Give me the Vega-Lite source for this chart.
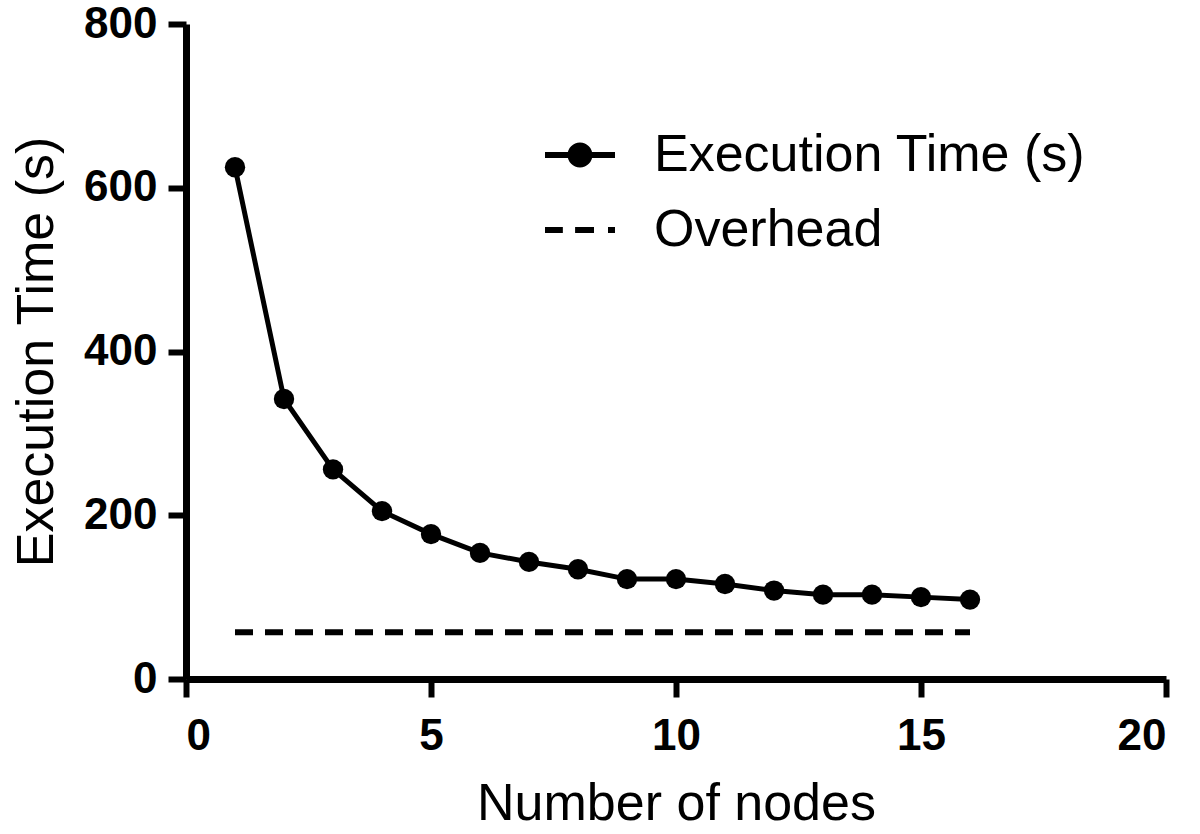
{
  "$schema": "https://vega.github.io/schema/vega-lite/v6.json",
  "width": 980,
  "height": 655,
  "autosize": {"type": "none"},
  "padding": {"left": 186, "top": 24, "right": 34, "bottom": 155},
  "background": "white",
  "config": {
    "view": {"stroke": null},
    "font": "Liberation Sans",
    "axis": {
      "grid": false,
      "domainColor": "black",
      "domainWidth": 7,
      "tickColor": "black",
      "tickWidth": 6,
      "tickSize": 18,
      "labelFont": "Liberation Sans",
      "labelFontSize": 44,
      "labelFontWeight": "bold",
      "labelColor": "black",
      "titleFont": "Liberation Sans",
      "titleFontSize": 52,
      "titleFontWeight": "normal",
      "titleColor": "black"
    }
  },
  "data": {
    "values": [
      {"nodes": 1, "series": "Execution Time (s)", "time": 625},
      {"nodes": 2, "series": "Execution Time (s)", "time": 342},
      {"nodes": 3, "series": "Execution Time (s)", "time": 256},
      {"nodes": 4, "series": "Execution Time (s)", "time": 205},
      {"nodes": 5, "series": "Execution Time (s)", "time": 177},
      {"nodes": 6, "series": "Execution Time (s)", "time": 154},
      {"nodes": 7, "series": "Execution Time (s)", "time": 143},
      {"nodes": 8, "series": "Execution Time (s)", "time": 134},
      {"nodes": 9, "series": "Execution Time (s)", "time": 122},
      {"nodes": 10, "series": "Execution Time (s)", "time": 122},
      {"nodes": 11, "series": "Execution Time (s)", "time": 116},
      {"nodes": 12, "series": "Execution Time (s)", "time": 108},
      {"nodes": 13, "series": "Execution Time (s)", "time": 103},
      {"nodes": 14, "series": "Execution Time (s)", "time": 103},
      {"nodes": 15, "series": "Execution Time (s)", "time": 100},
      {"nodes": 16, "series": "Execution Time (s)", "time": 97},
      {"nodes": 1, "series": "Overhead", "time": 57},
      {"nodes": 2, "series": "Overhead", "time": 57},
      {"nodes": 3, "series": "Overhead", "time": 57},
      {"nodes": 4, "series": "Overhead", "time": 57},
      {"nodes": 5, "series": "Overhead", "time": 57},
      {"nodes": 6, "series": "Overhead", "time": 57},
      {"nodes": 7, "series": "Overhead", "time": 57},
      {"nodes": 8, "series": "Overhead", "time": 57},
      {"nodes": 9, "series": "Overhead", "time": 57},
      {"nodes": 10, "series": "Overhead", "time": 57},
      {"nodes": 11, "series": "Overhead", "time": 57},
      {"nodes": 12, "series": "Overhead", "time": 57},
      {"nodes": 13, "series": "Overhead", "time": 57},
      {"nodes": 14, "series": "Overhead", "time": 57},
      {"nodes": 15, "series": "Overhead", "time": 57},
      {"nodes": 16, "series": "Overhead", "time": 57}
    ]
  },
  "encoding": {
    "x": {
      "field": "nodes",
      "type": "quantitative",
      "scale": {"domain": [0, 20], "nice": false, "zero": false},
      "axis": {
        "values": [0, 5, 10, 15, 20],
        "title": "Number of nodes",
        "labelPadding": 17,
        "titleBaseline": "alphabetic",
        "titleY": 140
      }
    },
    "y": {
      "field": "time",
      "type": "quantitative",
      "scale": {"domain": [0, 800], "nice": false},
      "axis": {
        "values": [0, 200, 400, 600, 800],
        "title": "Execution Time (s)",
        "labelPadding": 11,
        "titleBaseline": "alphabetic",
        "titleX": -134
      }
    }
  },
  "layer": [
    {
      "transform": [{"filter": "datum.series === 'Execution Time (s)'"}],
      "mark": {"type": "line", "color": "black", "strokeWidth": 5},
      "encoding": {}
    },
    {
      "transform": [{"filter": "datum.series === 'Overhead'"}],
      "mark": {"type": "line", "color": "black", "strokeWidth": 6, "strokeDash": [18, 12]},
      "encoding": {}
    },
    {
      "transform": [{"filter": "datum.series === 'Execution Time (s)'"}],
      "mark": {"type": "point", "filled": true, "color": "black", "size": 415, "opacity": 1}
    },
    {
      "transform": [{"filter": "datum.nodes < 0"}],
      "mark": {"type": "point", "filled": true, "color": "black", "opacity": 1},
      "encoding": {
        "shape": {
          "field": "series",
          "type": "nominal",
          "scale": {
            "domain": ["Execution Time (s)", "Overhead"],
            "range": [
              "M-1,-0.086L-0.3,-0.086L-0.3,0.086L-1,0.086ZM0.3,-0.086L1,-0.086L1,0.086L0.3,0.086ZM-0.357,0A0.357,0.357,0,1,1,0.357,0A0.357,0.357,0,1,1,-0.357,0Z",
              "M-1,-0.086L-0.49,-0.086L-0.49,0.086L-1,0.086ZM-0.14,-0.086L0.4,-0.086L0.4,0.086L-0.14,0.086ZM0.8,-0.086L1,-0.086L1,0.086L0.8,0.086Z"
            ]
          },
          "legend": {
            "orient": "none",
            "legendX": 358,
            "legendY": 95,
            "title": null,
            "padding": 0,
            "symbolSize": 4900,
            "symbolOpacity": 1,
            "labelFont": "Liberation Sans",
            "labelFontSize": 52,
            "labelColor": "black",
            "labelOffset": 38,
            "labelLimit": 0,
            "rowPadding": 13,
            "encode": {
              "symbols": {
                "update": {
                  "fill": {"value": "black"},
                  "opacity": {"value": 1}
                }
              }
            }
          }
        }
      }
    }
  ]
}
